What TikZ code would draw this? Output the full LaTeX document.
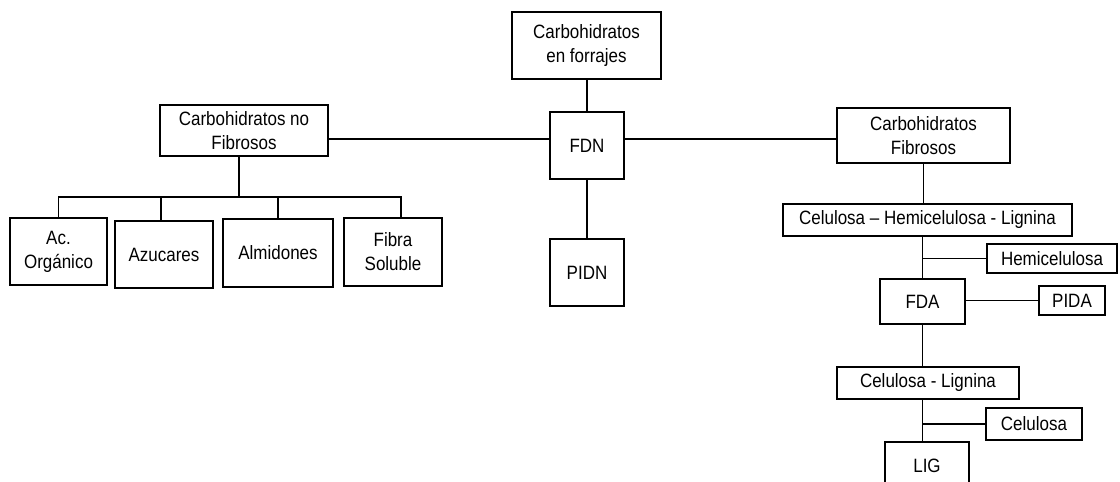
\documentclass[tikz,border=0pt]{standalone}
\usepackage{fontspec}
\setmainfont{Liberation Sans}[FakeStretch=0.88]
\begin{document}
\begin{tikzpicture}[x=1pt,y=-1pt,line width=1.3pt,
        box/.style={draw, align=center, inner sep=0pt,
            font=\fontsize{19.3}{24}\selectfont}]
        \useasboundingbox (0,0) rectangle (1120,482);
        \clip (0,0) rectangle (1120,482);
        % top and centre column
        \node[box, minimum width=149, minimum height=67] (cef) at (586.5,45.5) {Carbohidratos\\en forrajes};
        \node[box, minimum width=74, minimum height=67] (fdn) at (587,145.5) {FDN};
        \node[box, minimum width=74, minimum height=67] (pidn) at (587,272.5) {PIDN};
        \node[box, minimum width=168, minimum height=51] (cnf) at (244,130.5) {Carbohidratos no\\Fibrosos};
        \node[box, minimum width=173, minimum height=55] (cf) at (923.5,135.5) {Carbohidratos\\Fibrosos};
        % left row
        \node[box, minimum width=97, minimum height=67] (ac) at (58.5,251.5) {Ac.\\Orgánico};
        \node[box, minimum width=98, minimum height=67] (azu) at (164,254.5) {Azucares};
        \node[box, minimum width=110, minimum height=68] (alm) at (278,253) {Almidones};
        \node[box, minimum width=98, minimum height=68] (fib) at (393,252) {Fibra\\Soluble};
        % right column
        \node[box, minimum width=289, minimum height=32] (chl) at (927.5,220) {Celulosa -- Hemicelulosa - Lignina};
        \node[box, minimum width=130, minimum height=29] (hemi) at (1052,258.5) {Hemicelulosa};
        \node[box, minimum width=85, minimum height=45] (fda) at (922.5,301.5) {FDA};
        \node[box, minimum width=66, minimum height=29] (pida) at (1072,300.5) {PIDA};
        \node[box, minimum width=182, minimum height=32] (cl) at (928,383) {Celulosa - Lignina};
        \node[box, minimum width=96, minimum height=32] (celu) at (1034,424) {Celulosa};
        \node[box, minimum width=84, minimum height=48] (lig) at (927,466) {LIG};
        \coordinate (hl) at (0,139);
        \coordinate (bus) at (0,197);
        % connectors
        \draw (fdn.north |- cef.south) -- (fdn.north);
        \draw (fdn.south) -- (pidn.north);
        \draw (cnf.east |- hl) -- (fdn.west |- hl);
        \draw (fdn.east |- hl) -- (cf.west |- hl);
        \draw ([xshift=-5]cnf.south) -- ([xshift=-5]cnf.south |- bus);
        \draw (ac.north) -- (ac.north |- bus) -- ([xshift=8]fib.north |- bus) -- ([xshift=8]fib.north);
        \draw ([xshift=-3]azu.north) -- ([xshift=-3]azu.north |- bus);
        \draw (alm.north) -- (alm.north |- bus);
        \draw (cf.south) -- (cf.south |- chl.north);
        \draw (fda.north |- chl.south) -- (fda.north);
        \draw (hemi.west) -- (hemi.west -| fda.north);
        \draw (pida.west -| fda.east) -- (pida.west);
        \draw (fda.south) -- (fda.south |- cl.north);
        \draw (fda.south |- cl.south) -- (fda.south |- lig.north);
        \draw (celu.west) -- (celu.west -| fda.south);
    \end{tikzpicture}
\end{document}
